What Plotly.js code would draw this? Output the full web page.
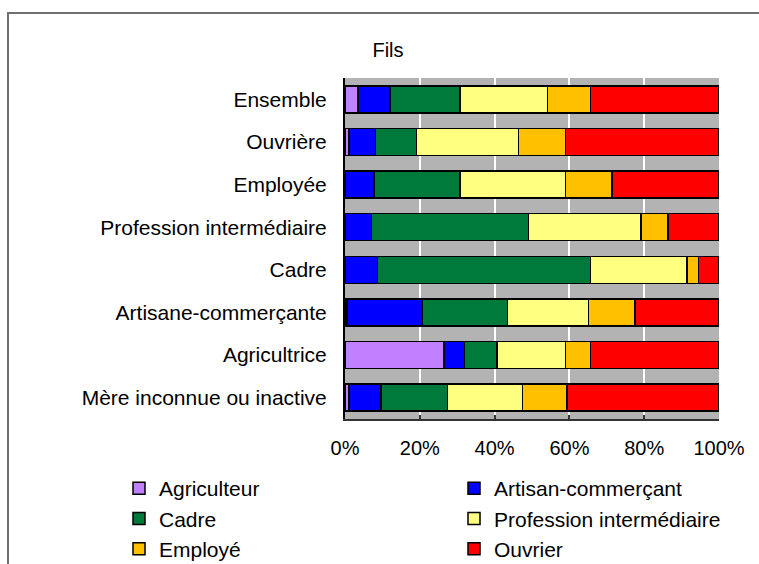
<!DOCTYPE html>
<html>
<head>
<meta charset="utf-8">
<script src="https://cdn.plot.ly/plotly-3.0.1.min.js"></script>
<style>
  html, body { margin: 0; padding: 0; background: #fff; }
  #wrap { position: relative; width: 759px; height: 564px; overflow: hidden; }
  #frame { position: absolute; left: 7px; top: 12px; width: 800px; height: 600px;
           border: 2px solid #707070; box-sizing: border-box; pointer-events: none; }
  #chart { position: absolute; left: 0; top: 0; width: 759px; height: 564px; }
</style>
</head>
<body>
<div id="wrap">
  <div id="chart"></div>
  <div id="frame"></div>
</div>
<script>
const categories = ['Ensemble', 'Ouvrière', 'Employée', 'Profession intermédiaire', 'Cadre',
                    'Artisane-commerçante', 'Agricultrice', 'Mère inconnue ou inactive'];
const seriesNames = ['Agriculteur', 'Artisan-commerçant', 'Cadre', 'Profession intermédiaire', 'Employé', 'Ouvrier'];
const agriculteur = [3.5, 1.1, 0, 0, 0, 0.6, 26.5, 1.1];
const artisan     = [8.5, 7.1, 7.7, 7.1, 8.7, 20.1, 5.5, 8.5];
const cadre       = [18.8, 10.9, 23.1, 42.0, 56.9, 22.7, 8.7, 17.8];
const profInter   = [23.4, 27.3, 28.1, 30.0, 25.8, 21.7, 18.2, 20.1];
const employe     = [11.4, 12.5, 12.5, 7.3, 3.1, 12.4, 6.7, 11.9];
const ouvrier     = [34.4, 41.1, 28.6, 13.6, 5.5, 22.5, 34.4, 40.6];
const tickValues  = [0, 20, 40, 60, 80, 100];
const tickLabels  = ['0%', '20%', '40%', '60%', '80%', '100%'];

const seriesValues = [agriculteur, artisan, cadre, profInter, employe, ouvrier];
const colors = ['#C080FF', '#0000FF', '#007A3A', '#FFFF80', '#FFC000', '#FF0000'];
const legendFor = ['legend', 'legend2', 'legend', 'legend2', 'legend', 'legend2'];

const font = 'Liberation Sans, Arial, sans-serif';

const data = seriesNames.map((name, i) => ({
  type: 'bar',
  orientation: 'h',
  name: name,
  x: seriesValues[i],
  y: categories,
  legend: legendFor[i],
  marker: { color: colors[i], line: { color: '#000', width: 1.5 } },
  hovertemplate: '%{y}<br>' + name + ': %{x}%<extra></extra>'
}));

const W = 759, H = 564;
const L = 345, R = 40, T = 78, B = 145;
const pw = W - L - R, ph = H - T - B;
const px = v => (v - L) / pw;
const py = v => (H - B - v) / ph;

const layout = {
  width: W, height: H,
  margin: { l: L, r: R, t: T, b: B, pad: 0, autoexpand: false },
  paper_bgcolor: '#ffffff',
  plot_bgcolor: '#B3B3B3',
  barmode: 'stack',
  bargap: 0.366,
  font: { family: font, size: 21, color: '#000' },
  title: {
    text: 'Fils',
    xref: 'container', yref: 'container',
    x: 388 / W, y: 1 - 50 / H, xanchor: 'center', yanchor: 'middle',
    font: { family: font, size: 20, color: '#000' }
  },
  xaxis: {
    range: [0, 100],
    tickvals: tickValues,
    ticktext: tickLabels,
    showgrid: true, gridcolor: '#ffffff', gridwidth: 2,
    zeroline: false,
    showline: true, linecolor: '#333333', linewidth: 1.5,
    ticks: 'inside', ticklen: 4, tickcolor: '#333333', tickwidth: 1.5,
    ticklabelstandoff: 10,
    tickfont: { family: font, size: 20, color: '#000' },
    fixedrange: true
  },
  yaxis: {
    type: 'category',
    autorange: 'reversed',
    showgrid: false,
    zeroline: false,
    showline: true, linecolor: '#000000', linewidth: 2,
    ticks: '',
    ticklabelstandoff: 12,
    tickfont: { family: font, size: 21, color: '#000' },
    fixedrange: true
  },
  legend: {
    orientation: 'v', traceorder: 'normal',
    x: px(119), y: py(468), xanchor: 'left', yanchor: 'top',
    bgcolor: 'rgba(0,0,0,0)', borderwidth: 0,
    font: { family: font, size: 21, color: '#000' },
    itemclick: false, itemdoubleclick: false
  },
  legend2: {
    orientation: 'v', traceorder: 'normal',
    x: px(454), y: py(468), xanchor: 'left', yanchor: 'top',
    bgcolor: 'rgba(0,0,0,0)', borderwidth: 0,
    font: { family: font, size: 21, color: '#000' },
    itemclick: false, itemdoubleclick: false
  },
  showlegend: true
};

Plotly.newPlot('chart', data, layout, { displayModeBar: false, staticPlot: false });
</script>
</body>
</html>
